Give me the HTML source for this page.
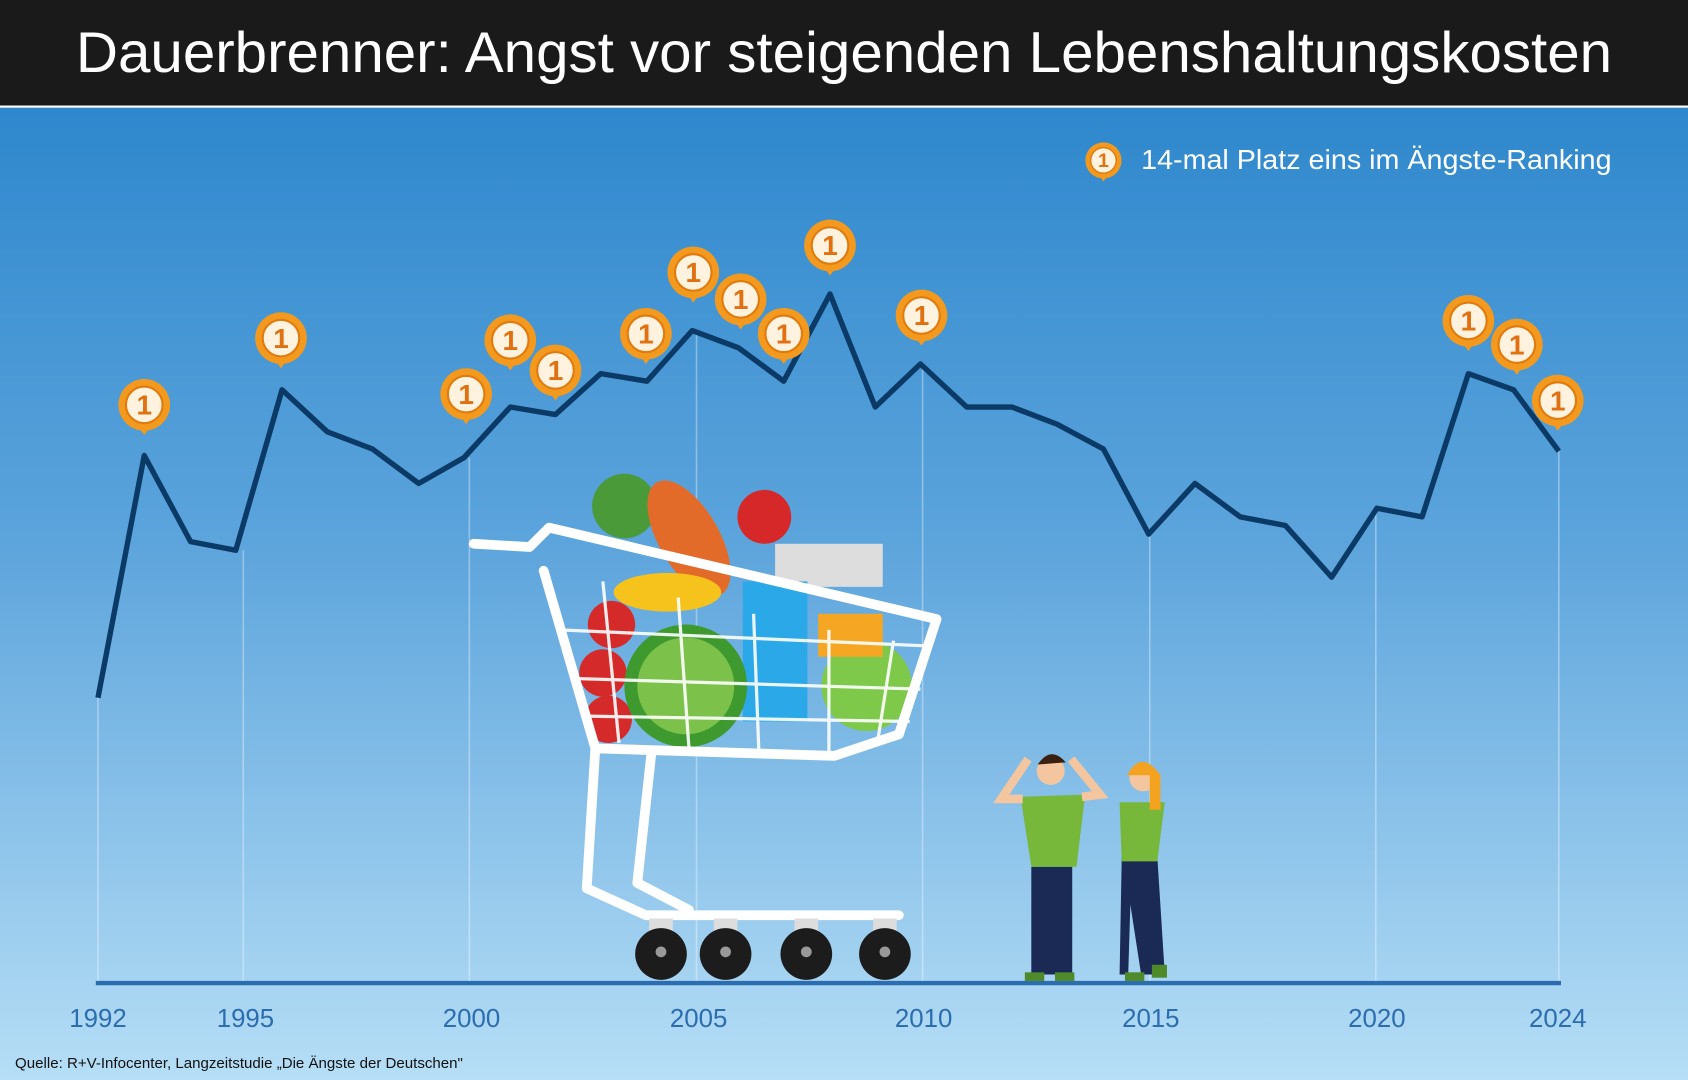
<!DOCTYPE html>
<html><head><meta charset="utf-8"><style>
html,body{margin:0;padding:0;width:1688px;height:1080px;overflow:hidden;}
svg{display:block}
text{font-family:"Liberation Sans",sans-serif}
</style></head><body>
<svg width="1688" height="1080" viewBox="0 0 1568 1003" preserveAspectRatio="none">
<defs>
<linearGradient id="bg" x1="0" y1="0" x2="0" y2="1">
<stop offset="0" stop-color="#2381c9"/><stop offset="0.5" stop-color="#5ca4dc"/><stop offset="1" stop-color="#b6def6"/>
</linearGradient>
<g id="b">
<path d="M-10,14 L0,28 L10,14 Z" fill="#f39a1e"/>
<circle r="24" fill="#f39a1e"/>
<circle r="17" fill="#fff3df" stroke="#e07b10" stroke-width="2"/>
<text y="9" text-anchor="middle" font-size="26" font-weight="bold" fill="#e07010">1</text>
</g>
</defs>
<rect width="1568" height="1003" fill="url(#bg)"/>
<rect width="1568" height="98" fill="#1b1a1a"/>
<rect y="98" width="1568" height="2" fill="#fff"/>
<text x="784" y="67" text-anchor="middle" font-size="53" fill="#fff" textLength="1427" lengthAdjust="spacingAndGlyphs">Dauerbrenner: Angst vor steigenden Lebenshaltungskosten</text>
<g transform="translate(1025,149) scale(0.7)"><use href="#b"/></g>
<text x="1060" y="157" font-size="26" fill="#fff" textLength="437" lengthAdjust="spacingAndGlyphs">14-mal Platz eins im Ängste-Ranking</text>
<g stroke="#ffffff" stroke-opacity="0.35" stroke-width="1.5">
<line x1="91" y1="648" x2="91" y2="913"/><line x1="226" y1="511" x2="226" y2="913"/>
<line x1="436" y1="425" x2="436" y2="913"/><line x1="647" y1="307" x2="647" y2="913"/>
<line x1="857" y1="338" x2="857" y2="913"/><line x1="1068" y1="496" x2="1068" y2="913"/>
<line x1="1278" y1="472" x2="1278" y2="913"/><line x1="1448" y1="419" x2="1448" y2="913"/>
</g>
<line x1="89" y1="913" x2="1450" y2="913" stroke="#2c6db0" stroke-width="4"/>
<g font-size="24" fill="#2c6db0" text-anchor="middle">
<text x="91" y="954">1992</text><text x="228" y="954">1995</text><text x="438" y="954">2000</text>
<text x="649" y="954">2005</text><text x="858" y="954">2010</text><text x="1069" y="954">2015</text>
<text x="1279" y="954">2020</text><text x="1447" y="954">2024</text>
</g>
<text x="14" y="992" font-size="14" fill="#111">Quelle: R+V-Infocenter, Langzeitstudie „Die Ängste der Deutschen"</text>
<polyline fill="none" stroke="#0b3a66" stroke-width="5" stroke-linejoin="round" points="91,648 134,423 177,503 219,511 262,362 304,401 346,417 389,449 431,425 474,378 516,385 558,347 601,354 643,307 686,323 728,354 771,273 813,378 855,338 898,378 940,378 982,394 1025,417 1067,496 1110,449 1152,480 1194,488 1237,536 1279,472 1321,480 1364,347 1406,362 1448,419"/>
<use href="#b" x="134" y="376"/><use href="#b" x="261" y="314"/><use href="#b" x="433" y="366"/>
<use href="#b" x="474" y="316"/><use href="#b" x="516" y="344"/><use href="#b" x="600" y="310"/>
<use href="#b" x="644" y="253"/><use href="#b" x="688" y="278"/><use href="#b" x="728" y="310"/>
<use href="#b" x="771" y="228"/><use href="#b" x="856" y="293"/><use href="#b" x="1364" y="298"/>
<use href="#b" x="1409" y="320"/><use href="#b" x="1447" y="372"/>
<circle cx="580" cy="470" r="30" fill="#4a9a3a"/>
<ellipse cx="640" cy="500" rx="28" ry="60" fill="#e36b2a" transform="rotate(-30 640 500)"/>
<circle cx="710" cy="480" r="25" fill="#d62828"/>
<rect x="720" y="505" width="100" height="40" fill="#ddd"/>
<ellipse cx="620" cy="550" rx="50" ry="18" fill="#f6c21c"/>
<rect x="690" y="540" width="60" height="130" fill="#2aa8e8"/>
<circle cx="568" cy="580" r="22" fill="#d52a2a"/><circle cx="560" cy="625" r="22" fill="#d52a2a"/><circle cx="565" cy="668" r="22" fill="#d52a2a"/>
<circle cx="637" cy="637" r="57" fill="#3e9a2e"/><circle cx="637" cy="637" r="45" fill="#7cc24a"/>
<circle cx="805" cy="637" r="42" fill="#7ec84a"/>
<rect x="760" y="570" width="60" height="40" fill="#f5a623"/>
<g fill="none" stroke="#fff" stroke-width="9" stroke-linejoin="round" stroke-linecap="round">
<path d="M440,505 L492,508 L510,490 L870,575 L835,682 L775,702 L553,695 L505,530"/>
<path d="M553,695 L545,825 L600,850 L835,850"/>
<path d="M605,700 L592,820 L640,845"/>
</g>
<g stroke="#fff" stroke-width="3" opacity="0.9">
<line x1="520" y1="585" x2="865" y2="600"/><line x1="530" y1="630" x2="855" y2="640"/><line x1="540" y1="665" x2="845" y2="670"/>
<line x1="560" y1="540" x2="575" y2="690"/><line x1="630" y1="555" x2="640" y2="695"/><line x1="700" y1="570" x2="705" y2="700"/><line x1="770" y1="585" x2="770" y2="700"/><line x1="830" y1="595" x2="815" y2="690"/>
</g>
<g fill="#ddd"><rect x="603" y="853" width="22" height="25"/><rect x="663" y="853" width="22" height="25"/><rect x="738" y="853" width="22" height="25"/><rect x="811" y="853" width="22" height="25"/></g>
<g fill="#1c1c1c"><circle cx="614" cy="886" r="24"/><circle cx="674" cy="886" r="24"/><circle cx="749" cy="886" r="24"/><circle cx="822" cy="886" r="24"/></g>
<g fill="#999"><circle cx="614" cy="884" r="5"/><circle cx="674" cy="884" r="5"/><circle cx="749" cy="884" r="5"/><circle cx="822" cy="884" r="5"/></g>
<rect x="958" y="805" width="38" height="100" fill="#1a2a55"/>
<path d="M948,740 L1008,738 L1000,805 L958,805 Z" fill="#77b83a"/>
<path d="M950,742 L930,742 L955,705 M1005,740 L1022,738 L995,705" stroke="#f4c6a0" stroke-width="8" fill="none"/>
<circle cx="976" cy="716" r="13" fill="#f4c6a0"/><path d="M964,710 Q976,692 990,708 Z" fill="#3a2010"/>
<path d="M1042,795 L1075,795 L1082,905 L1060,905 L1050,840 L1048,905 L1040,905 Z" fill="#1a2a55"/>
<path d="M1040,745 L1082,745 L1075,800 L1042,800 Z" fill="#77b83a"/>
<circle cx="1062" cy="722" r="13" fill="#f4c6a0"/><path d="M1047,720 Q1060,695 1078,720 L1078,752 L1068,752 L1068,720 Z" fill="#f4a321"/>
<g fill="#4e8a2a"><rect x="952" y="903" width="18" height="8"/><rect x="980" y="903" width="18" height="8"/><rect x="1045" y="903" width="18" height="8"/><rect x="1070" y="896" width="14" height="12"/></g>
</svg>
</body></html>
